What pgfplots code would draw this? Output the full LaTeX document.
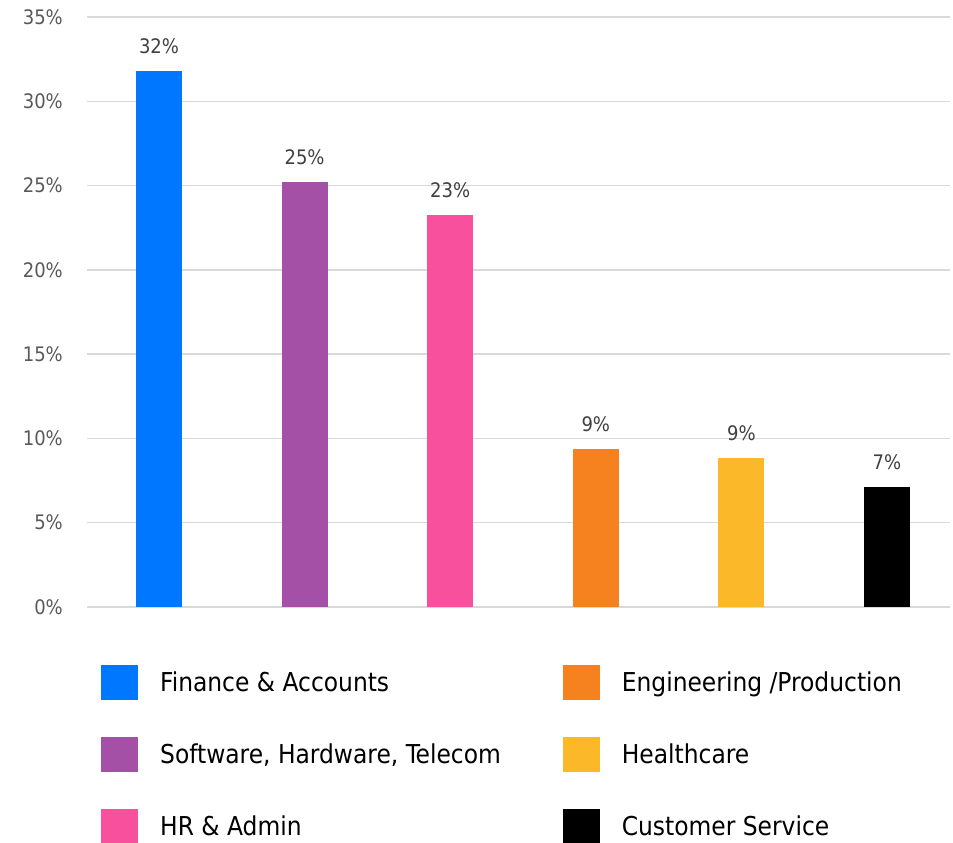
\documentclass[border=0pt]{standalone}
\usepackage{pgfplots}
\pgfplotsset{compat=1.18}
\usepackage{fontspec}
\setmainfont{DejaVu Sans Condensed}
\definecolor{cblue}{HTML}{0077FF}
\definecolor{cpurple}{HTML}{A550A7}
\definecolor{cpink}{HTML}{F8509D}
\definecolor{corange}{HTML}{F5821F}
\definecolor{cyellow}{HTML}{FBB829}
\definecolor{cblack}{HTML}{000000}
\definecolor{gridgray}{HTML}{D9D9D9}
\definecolor{ticktext}{HTML}{595959}
\definecolor{labtext}{HTML}{404040}
\pgfplotsset{
  sq/.style={legend image code/.code={\fill[##1,draw=none] (0bp,-14.5bp) rectangle (37bp,20.5bp);}},
  bb/.style={ybar, bar width=46bp, draw=none, fill=#1, sq,
    every node near coord/.append style={anchor=south, inner sep=0pt, yshift=17bp,
      text=labtext, font=\fontsize{20bp}{24bp}\selectfont}},
}
\begin{document}
\begin{tikzpicture}
\useasboundingbox (0,0) rectangle (953bp,843bp);
\begin{axis}[
  at={(87bp,236bp)}, anchor=south west,
  scale only axis, width=863bp, height=590bp,
  xmin=-0.4945, xmax=5.433, ymin=0, ymax=35,
  ytick={0,5,...,35}, xtick=\empty,
  ymajorgrids, grid style={color=gridgray, line width=1.5bp},
  axis line style={draw=none}, major tick length=0pt,
  /pgf/number format/assume math mode=true,
  yticklabel={\pgfmathprintnumber{\tick}\%},
  yticklabel style={font=\fontsize{20bp}{24bp}\selectfont, text=ticktext, inner sep=0pt, xshift=-24bp},
  clip=false,
  legend columns=2,
  legend cell align=left,
  legend style={draw=none, fill=none, inner sep=0pt, at={(axis description cs:0.0162,-0.0983)}, anchor=north west,
    font=\fontsize{26bp}{31bp}\selectfont, row sep=37bp, column sep=22bp,
    nodes={inner sep=0pt, text height=14bp, text depth=2bp},
    /tikz/column 2/.style={column sep=62bp}},
]
\addplot[bb=cblue, nodes near coords={32\%}] coordinates {(0,31.8)};
\addlegendentry{Finance \& Accounts}
\addplot[bb=corange, nodes near coords={9\%}] coordinates {(3,9.37)};
\addlegendentry{Engineering /Production}
\addplot[bb=cpurple, nodes near coords={25\%}] coordinates {(1,25.2)};
\addlegendentry{Software, Hardware, Telecom}
\addplot[bb=cyellow, nodes near coords={9\%}] coordinates {(4,8.84)};
\addlegendentry{Healthcare}
\addplot[bb=cpink, nodes near coords={23\%}] coordinates {(2,23.25)};
\addlegendentry{HR \& Admin}
\addplot[bb=cblack, nodes near coords={7\%}] coordinates {(5,7.12)};
\addlegendentry{Customer Service}
\end{axis}
\end{tikzpicture}
\end{document}
